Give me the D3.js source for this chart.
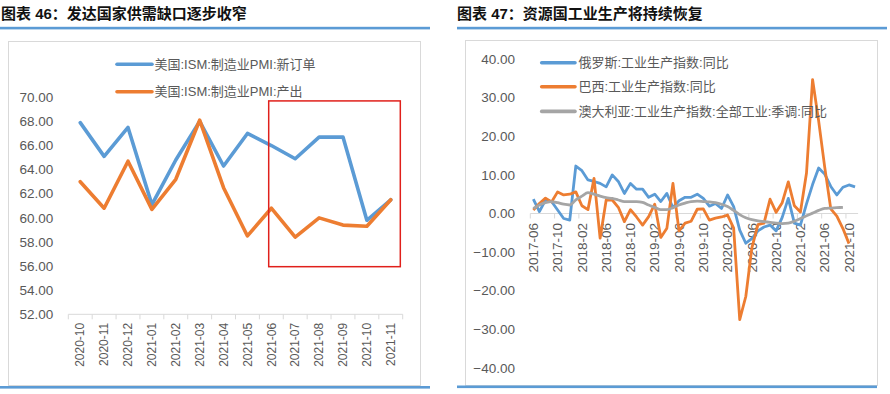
<!DOCTYPE html>
<html><head><meta charset="utf-8">
<script src="https://cdn.jsdelivr.net/npm/d3@7"></script>
<style>
html,body{margin:0;padding:0;background:#fff;}
svg{display:block;font-family:"Liberation Sans","Noto Sans CJK SC",sans-serif;}
</style></head><body>
<svg id="c" width="890" height="394"></svg>
<script>
// ---------- data ----------
const leftTitle = "图表 46：发达国家供需缺口逐步收窄";
const rightTitle = "图表 47：资源国工业生产将持续恢复";

const leftCategories = ["2020-10","2020-11","2020-12","2021-01","2021-02","2021-03","2021-04","2021-05","2021-06","2021-07","2021-08","2021-09","2021-10","2021-11"];
const newOrders = [67.9,65.1,67.5,61.1,64.8,68.0,64.3,67.0,66.0,64.9,66.7,66.7,59.8,61.5];
const output    = [63.0,60.8,64.7,60.7,63.2,68.1,62.5,58.5,60.8,58.4,60.0,59.4,59.3,61.5];
const leftSeriesNames = ["美国:ISM:制造业PMI:新订单","美国:ISM:制造业PMI:产出"];
const leftTicks = [52,54,56,58,60,62,64,66,68,70];

const rightCategories = ["2017-06","2017-07","2017-08","2017-09","2017-10","2017-11","2017-12",
 "2018-01","2018-02","2018-03","2018-04","2018-05","2018-06","2018-07","2018-08","2018-09","2018-10","2018-11","2018-12",
 "2019-01","2019-02","2019-03","2019-04","2019-05","2019-06","2019-07","2019-08","2019-09","2019-10","2019-11","2019-12",
 "2020-01","2020-02","2020-03","2020-04","2020-05","2020-06","2020-07","2020-08","2020-09","2020-10","2020-11","2020-12",
 "2021-01","2021-02","2021-03","2021-04","2021-05","2021-06","2021-07","2021-08","2021-09","2021-10","2021-11"];
const rightTickLabels = ["2017-06","2017-10","2018-02","2018-06","2018-10","2019-02","2019-06","2019-10","2020-02","2020-06","2020-10","2021-02","2021-06","2021-10"];
const russia = [3.7,0.5,3.5,3.1,0.9,-1.3,-1.7,12.3,11.1,8.7,8.3,7.8,6.9,10.0,8.3,5.2,7.8,6.3,6.3,4.2,5.0,3.1,5.2,1.5,3.3,4.2,4.2,5.0,3.9,1.9,2.6,1.3,4.8,1.8,-4.3,-7.7,-6.5,-4.5,-3.5,-3.0,-4.5,-1.0,3.9,-2.5,-3.0,2.5,7.5,11.8,10.2,7.0,4.8,6.8,7.4,6.9];
const brazil = [0.9,2.6,4.0,3.0,5.6,4.8,5.0,5.6,2.0,1.0,9.1,-6.4,3.5,3.5,1.6,-2.1,1.0,-0.9,-3.0,-0.8,2.4,-6.2,-3.8,7.8,-4.5,-2.5,-2.0,1.1,1.2,-1.7,-1.2,-0.9,-0.4,-3.8,-27.5,-21.5,-8.9,-2.9,-2.5,3.7,0.3,2.8,8.2,2.0,0.4,10.5,34.7,24.0,12.0,1.2,-0.7,-3.9,-7.8,null];
const australia = [1.3,2.2,2.8,3.1,2.8,2.4,2.2,3.5,4.5,5.4,5.0,4.5,4.1,3.9,3.5,3.1,3.1,3.1,2.9,2.2,1.6,1.0,1.0,1.5,2.2,2.7,3.1,3.2,3.1,3.0,2.8,2.4,1.8,0.8,-0.3,-1.1,-1.6,-1.9,-2.1,-2.3,-2.5,-2.6,-2.5,-2.0,-1.3,-0.6,0.1,0.8,1.3,1.4,1.5,1.6,null,null];
const rightSeriesNames = ["俄罗斯:工业生产指数:同比","巴西:工业生产指数:同比","澳大利亚:工业生产指数:全部工业:季调:同比"];
const rightTicks = [-40,-30,-20,-10,0,10,20,30,40];

// ---------- style ----------
const BLUE = "#5b9bd5", ORANGE = "#ed7d31", GRAY = "#a5a5a5", RULE = "#5b9bd5";
const AXIS = "#d9d9d9", TXT = "#595959";
const fmt = d3.format(".2f");

const svg = d3.select("#c");

// titles and rules
svg.append("text").attr("x",1).attr("y",19).text(leftTitle)
  .style("font-size","15px").style("font-weight","bold").attr("fill","#111");
svg.append("text").attr("x",457).attr("y",19).text(rightTitle)
  .style("font-size","15px").style("font-weight","bold").attr("fill","#111");
svg.append("rect").attr("x",0).attr("y",26.8).attr("width",430).attr("height",2.6).attr("fill",RULE);
svg.append("rect").attr("x",457).attr("y",26.8).attr("width",430).attr("height",2.6).attr("fill",RULE);

// frames
svg.append("rect").attr("x",8.5).attr("y",41.5).attr("width",412).attr("height",344).attr("fill","none").attr("stroke",AXIS);
svg.append("rect").attr("x",465.5).attr("y",40.5).attr("width",412).attr("height",345).attr("fill","none").attr("stroke",AXIS);
svg.append("rect").attr("x",0).attr("y",386).attr("width",430).attr("height",2.6).attr("fill",RULE);
svg.append("rect").attr("x",457).attr("y",385.5).attr("width",420).attr("height",2.6).attr("fill",RULE);

// ---------- left chart ----------
const xL = d3.scaleBand().domain(leftCategories).range([68.3,402.7]);
const yL = d3.scaleLinear().domain([52,70]).range([314.3,97.3]);
const cxL = c => xL(c) + xL.bandwidth()/2;
const gL = svg.append("g");

gL.append("line").attr("x1",xL.range()[0]).attr("x2",xL.range()[1])
  .attr("y1",yL(52)).attr("y2",yL(52)).attr("stroke",AXIS).attr("stroke-width",1);
const bL = leftCategories.map(c => xL(c)).concat([xL.range()[1]]);
gL.selectAll(".tkl").data(bL).join("line")
  .attr("x1",d=>d).attr("x2",d=>d).attr("y1",yL(52)).attr("y2",yL(52)+5).attr("stroke",AXIS);
gL.selectAll(".xl").data(leftCategories).join("text")
  .attr("transform",c=>`translate(${cxL(c)},${yL(52)+8.5}) rotate(-90)`)
  .attr("text-anchor","end").attr("dy","0.35em").attr("fill",TXT)
  .style("font-size","12px").text(c=>c);
gL.selectAll(".yl").data(leftTicks).join("text")
  .attr("x",53.3).attr("y",d=>yL(d)).attr("dy","0.35em").attr("text-anchor","end")
  .attr("fill",TXT).style("font-size","13.5px").text(d=>fmt(d));

const lineL = d3.line().x((d,i)=>cxL(leftCategories[i])).y(d=>yL(d));
[[newOrders,BLUE],[output,ORANGE]].forEach(([s,col])=>{
  gL.append("path").attr("d",lineL(s)).attr("fill","none").attr("stroke",col)
    .attr("stroke-width",3.6).attr("stroke-linejoin","round").attr("stroke-linecap","round");
});
// legend
[[leftSeriesNames[0],BLUE,64.3],[leftSeriesNames[1],ORANGE,91.7]].forEach(([n,col,y])=>{
  gL.append("line").attr("x1",117).attr("x2",152).attr("y1",y).attr("y2",y)
    .attr("stroke",col).attr("stroke-width",3.6).attr("stroke-linecap","round");
  gL.append("text").attr("x",154.5).attr("y",y).attr("dy","0.35em").attr("fill",TXT)
    .style("font-size","13px").text(n);
});
// highlight box (annotation, in data terms)
{
  const x0 = xL("2021-06") + xL.bandwidth()*0.39;
  const x1 = xL("2021-11") + xL.bandwidth()*0.9;
  gL.append("rect").attr("x",x0).attr("y",yL(69.7)).attr("width",x1-x0)
    .attr("height",yL(55.95)-yL(69.7)).attr("fill","none").attr("stroke","#e0201b").attr("stroke-width",1.5);
}

// ---------- right chart ----------
const xR = d3.scaleBand().domain(rightCategories).range([530.3,858.1]);
const yR = d3.scaleLinear().domain([-40,40]).range([367.9,59.1]);
const cxR = c => xR(c) + xR.bandwidth()/2;
const gR = svg.append("g");

gR.append("line").attr("x1",xR.range()[0]).attr("x2",xR.range()[1])
  .attr("y1",yR(0)).attr("y2",yR(0)).attr("stroke",AXIS);
gR.selectAll(".tkr").data(rightTickLabels).join("line")
  .attr("x1",c=>xR(c)).attr("x2",c=>xR(c)).attr("y1",yR(0)).attr("y2",yR(0)+5).attr("stroke",AXIS);
gR.selectAll(".xr").data(rightTickLabels).join("text")
  .attr("transform",c=>`translate(${cxR(c)},${yR(0)+9.5}) rotate(-90)`)
  .attr("text-anchor","end").attr("dy","0.35em").attr("fill",TXT)
  .style("font-size","13.5px").text(c=>c);
gR.selectAll(".yr").data(rightTicks).join("text")
  .attr("x",515).attr("y",d=>yR(d)).attr("dy","0.35em").attr("text-anchor","end")
  .attr("fill",TXT).style("font-size","13.5px").text(d=>fmt(d));

const lineR = d3.line().defined(d=>d!==null).x((d,i)=>cxR(rightCategories[i])).y(d=>yR(d));
const lineRs = d3.line().defined(d=>d!==null).x((d,i)=>cxR(rightCategories[i])).y(d=>yR(d)).curve(d3.curveMonotoneX);
gR.append("path").attr("d",lineR(russia)).attr("fill","none").attr("stroke",BLUE).attr("stroke-width",2.8).attr("stroke-linejoin","round");
gR.append("path").attr("d",lineR(brazil)).attr("fill","none").attr("stroke",ORANGE).attr("stroke-width",2.8).attr("stroke-linejoin","round");
gR.append("path").attr("d",lineRs(australia)).attr("fill","none").attr("stroke",GRAY).attr("stroke-width",2.8).attr("stroke-linejoin","round");

[[rightSeriesNames[0],BLUE,62.7],[rightSeriesNames[1],ORANGE,86.7],[rightSeriesNames[2],GRAY,111.4]].forEach(([n,col,y])=>{
  gR.append("line").attr("x1",541.7).attr("x2",575).attr("y1",y).attr("y2",y)
    .attr("stroke",col).attr("stroke-width",3.6).attr("stroke-linecap","round");
  gR.append("text").attr("x",578.5).attr("y",y).attr("dy","0.35em").attr("fill",TXT)
    .style("font-size","13px").text(n);
});
</script>
</body></html>
